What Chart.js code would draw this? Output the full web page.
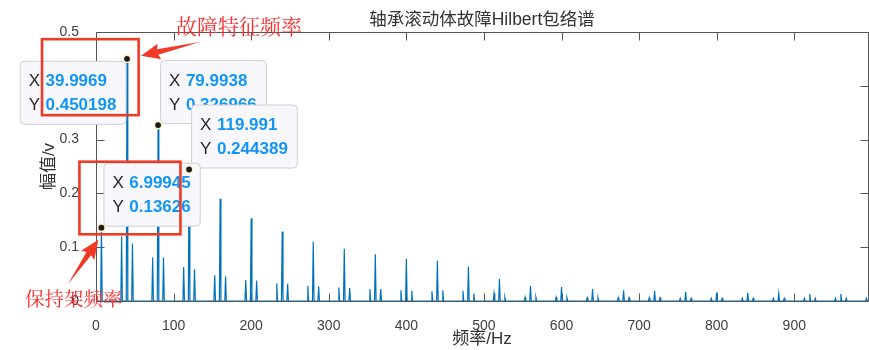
<!DOCTYPE html>
<html>
<head>
<meta charset="utf-8">
<script src="https://cdn.jsdelivr.net/npm/chart.js@4.4.1/dist/chart.umd.min.js"></script>
<style>
  html, body { margin: 0; padding: 0; background: #ffffff; }
  #wrap { width: 869px; height: 350px; }
</style>
</head>
<body>
<div id="wrap"><canvas id="c" width="869" height="350"></canvas></div>
<script>
// Envelope spectrum peaks: fault frequency harmonics (~40 Hz) with cage sidebands (±7 Hz)
const peakFreqs = [
  6.99945, 33, 39.9969, 47, 73, 79.9938, 87, 113, 119.991, 127,
  153, 160, 167, 193, 200, 207, 233, 240, 247, 273, 280, 287,
  313, 320, 327, 353, 360, 367, 393, 400, 407, 433, 440, 447,
  473, 480, 487, 513, 520, 527, 553, 560, 567, 593, 600, 607,
  633, 640, 647, 673, 680, 687, 713, 720, 727, 753, 760, 767,
  793, 800, 807, 833, 840, 847, 873, 880, 887, 913, 920, 927,
  953, 960, 967, 993
];
const peakAmps = [
  0.13626, 0.120, 0.450198, 0.107, 0.081, 0.326966, 0.081, 0.063, 0.244389, 0.059,
  0.048, 0.190, 0.046, 0.039, 0.154, 0.038, 0.033, 0.129, 0.032, 0.028, 0.110, 0.027,
  0.025, 0.097, 0.024, 0.022, 0.087, 0.022, 0.020, 0.078, 0.019, 0.018, 0.075, 0.020,
  0.019, 0.064, 0.014, 0.014, 0.041, 0.007, 0.007, 0.028, 0.007, 0.007, 0.026, 0.006,
  0.006, 0.022, 0.006, 0.006, 0.020, 0.006, 0.006, 0.019, 0.006, 0.005, 0.017, 0.005,
  0.005, 0.016, 0.005, 0.005, 0.015, 0.005, 0.005, 0.014, 0.005, 0.005, 0.013, 0.005,
  0.005, 0.013, 0.005, 0.005
];

// Data tips shown on the plot
const tipFreqs = [79.9938, 119.991, 39.9969, 6.99945];
const tipAmps  = [0.326966, 0.244389, 0.450198, 0.13626];
const tipSides = ['above', 'above', 'below-left', 'above'];

const xTickValues = [0, 100, 200, 300, 400, 500, 600, 700, 800, 900];
const yTickValues = [0, 0.1, 0.2, 0.3, 0.4, 0.5];
const yTickLabels = ['0', '0.1', '0.2', '0.3', '0.4', '0.5'];

const X_MIN = 0, X_MAX = 995;

// Build the spectrum trace: each peak is a narrow spike rising from the zero floor
const spectrum = [{ x: X_MIN, y: 0 }];
peakFreqs.forEach((f, i) => {
  spectrum.push({ x: f - 1, y: 0 }, { x: f, y: peakAmps[i] }, { x: f + 1, y: 0 });
});
spectrum.push({ x: X_MAX, y: 0 });

const LATIN = '"Liberation Sans", Arial, "Noto Sans CJK SC", sans-serif';
const RED_FONT = '"Noto Serif CJK SC", "AR PL UMing CN", "Noto Sans CJK SC", serif';
const AXIS_COLOR = '#555555';
const TICK_LEN = 8;

// Axes box with inward tick marks (drawn beneath the data)
const axesBox = {
  id: 'axesBox',
  beforeDatasetsDraw(chart) {
    const { ctx, chartArea: a, scales: { x, y } } = chart;
    ctx.save();
    ctx.strokeStyle = AXIS_COLOR;
    ctx.lineWidth = 1;
    const L = a.left + 0.5, R = a.right + 0.5, T = a.top + 0.5, B = a.bottom + 0.5;
    ctx.beginPath();
    ctx.moveTo(L, T); ctx.lineTo(R, T); ctx.lineTo(R, B); ctx.lineTo(L, B); ctx.closePath();
    ctx.stroke();
    ctx.beginPath();
    xTickValues.forEach(v => {
      const px = Math.round(x.getPixelForValue(v)) + 0.5;
      ctx.moveTo(px, B); ctx.lineTo(px, B - TICK_LEN);
      ctx.moveTo(px, T); ctx.lineTo(px, T + TICK_LEN);
    });
    yTickValues.forEach(v => {
      const py = Math.round(y.getPixelForValue(v)) + 0.5;
      ctx.moveTo(L, py); ctx.lineTo(L + TICK_LEN, py);
      ctx.moveTo(R, py); ctx.lineTo(R - TICK_LEN, py);
    });
    ctx.stroke();
    ctx.restore();
  }
};

function roundRect(ctx, x, y, w, h, r) {
  ctx.beginPath();
  ctx.moveTo(x + r, y);
  ctx.lineTo(x + w - r, y); ctx.arcTo(x + w, y, x + w, y + r, r);
  ctx.lineTo(x + w, y + h - r); ctx.arcTo(x + w, y + h, x + w - r, y + h, r);
  ctx.lineTo(x + r, y + h); ctx.arcTo(x, y + h, x, y + h - r, r);
  ctx.lineTo(x, y + r); ctx.arcTo(x, y, x + r, y, r);
  ctx.closePath();
}

function arrow(ctx, x0, y0, x1, y1, headLen, headHalf, tailHalf) {
  const dx = x1 - x0, dy = y1 - y0, len = Math.hypot(dx, dy);
  const ux = dx / len, uy = dy / len, nx = -uy, ny = ux;
  const bx = x1 - ux * headLen, by = y1 - uy * headLen;
  ctx.beginPath();
  ctx.moveTo(x1, y1);
  ctx.lineTo(bx + nx * headHalf - ux * 2, by + ny * headHalf - uy * 2);
  ctx.lineTo(bx + nx * tailHalf, by + ny * tailHalf);
  ctx.lineTo(x0, y0);
  ctx.lineTo(bx - nx * tailHalf, by - ny * tailHalf);
  ctx.lineTo(bx - nx * headHalf - ux * 2, by - ny * headHalf - uy * 2);
  ctx.closePath();
  ctx.fill();
}

// Data tips and the red call-outs
const overlay = {
  id: 'overlay',
  afterDraw(chart) {
    const { ctx, scales: { x, y } } = chart;
    ctx.save();
    const FS = 17, PAD = 9, H = 63;
    const marks = [];
    tipFreqs.forEach((f, i) => {
      const px = x.getPixelForValue(f), py = y.getPixelForValue(tipAmps[i]);
      const xs = String(f), ys = String(tipAmps[i]);
      ctx.font = `${FS}px ${LATIN}`;
      const wX = ctx.measureText('X').width, wY = ctx.measureText('Y').width;
      ctx.font = `bold ${FS}px ${LATIN}`;
      const vX = ctx.measureText(xs).width, vY = ctx.measureText(ys).width;
      const gap = 5.5;
      const w = PAD * 2 + Math.max(wX + gap + vX, wY + gap + vY);
      let bx, by;
      if (tipSides[i] === 'below-left') { bx = px - 1.6 - w; by = py + 2; }
      else { bx = px + 2; by = py - 2 - H; }
      roundRect(ctx, bx + 0.5, by + 0.5, w, H, 4);
      ctx.fillStyle = '#f8f8fc';
      ctx.fill();
      ctx.strokeStyle = '#cfcfd4';
      ctx.lineWidth = 1;
      ctx.stroke();
      ctx.textBaseline = 'middle';
      ctx.textAlign = 'left';
      const r1 = by + 21, r2 = by + 45;
      ctx.font = `${FS}px ${LATIN}`;
      ctx.fillStyle = '#262626';
      ctx.fillText('X', bx + PAD, r1);
      ctx.fillText('Y', bx + PAD, r2);
      ctx.font = `bold ${FS}px ${LATIN}`;
      ctx.fillStyle = '#1296f5';
      ctx.fillText(xs, bx + PAD + wX + gap, r1);
      ctx.fillText(ys, bx + PAD + wY + gap, r2);
      marks.push([px, py]);
    });
    marks.forEach(([px, py]) => {
      ctx.beginPath();
      ctx.arc(px, py, 3.6, 0, Math.PI * 2);
      ctx.fillStyle = '#1a1a1a';
      ctx.fill();
      ctx.strokeStyle = '#fbf3c4';
      ctx.lineWidth = 1.4;
      ctx.stroke();
    });

    // Red call-outs: fault characteristic frequency and cage frequency
    const f40x = x.getPixelForValue(39.9969), f40y = y.getPixelForValue(0.450198);
    const f7x = x.getPixelForValue(6.99945), f7y = y.getPixelForValue(0.13626);
    ctx.strokeStyle = '#f03a26';
    ctx.lineWidth = 2.6;
    ctx.strokeRect(f40x - 85, f40y - 19.6, 96.6, 76);
    ctx.strokeRect(f7x - 22, f7y - 66, 101, 72.6);
    ctx.fillStyle = '#f03a26';
    arrow(ctx, 200, 42, f40x + 14, f40y - 3, 17, 8, 2.8);
    arrow(ctx, 68, 284, f7x - 3, f7y + 12, 17, 8, 2.8);
    ctx.fillStyle = '#ff2b2b';
    ctx.textBaseline = 'middle';
    ctx.textAlign = 'left';
    ctx.font = `21px ${RED_FONT}`;
    ctx.fillText('故障特征频率', 176, 26);
    ctx.font = `19.5px ${RED_FONT}`;
    ctx.fillText('保持架频率', 25, 299);
    ctx.restore();
  }
};

new Chart(document.getElementById('c'), {
  type: 'line',
  data: {
    datasets: [{
      data: spectrum,
      borderColor: '#0072BD',
      borderWidth: 1.2,
      pointRadius: 0,
      tension: 0,
      fill: false
    }]
  },
  options: {
    responsive: false,
    animation: false,
    devicePixelRatio: 1,
    layout: { padding: { top: 0, right: 1, left: 0, bottom: 0 } },
    plugins: {
      legend: { display: false },
      tooltip: { enabled: false },
      title: {
        display: true,
        fullSize: false,
        text: '轴承滚动体故障Hilbert包络谱',
        color: '#333333',
        font: { family: LATIN, size: 17.5, weight: 'normal' },
        padding: { top: 9.5, bottom: 1.5 }
      }
    },
    scales: {
      x: {
        type: 'linear',
        min: X_MIN,
        max: X_MAX,
        grid: { display: false },
        border: { display: false },
        ticks: {
          color: '#404040',
          font: { family: LATIN, size: 14 },
          padding: 9,
          maxRotation: 0,
          autoSkip: false,
          includeBounds: false
        },
        afterBuildTicks: s => { s.ticks = xTickValues.map(v => ({ value: v })); },
        afterFit: s => { s.height = 49; },
        title: {
          display: true,
          text: '频率/Hz',
          color: '#333333',
          font: { family: LATIN, size: 17 },
          padding: { top: 0, bottom: 0 }
        }
      },
      y: {
        type: 'linear',
        min: 0,
        max: 0.5,
        grid: { display: false },
        border: { display: false },
        ticks: {
          color: '#404040',
          font: { family: LATIN, size: 14 },
          padding: 9,
          callback: (v, i) => yTickLabels[i]
        },
        afterBuildTicks: s => { s.ticks = yTickValues.map(v => ({ value: v })); },
        afterFit: s => { s.width = 96; },
        title: {
          display: true,
          text: '幅值/v',
          color: '#333333',
          font: { family: LATIN, size: 17 },
          padding: { top: 39, bottom: 0 }
        }
      }
    }
  },
  plugins: [axesBox, overlay]
});
</script>
</body>
</html>
